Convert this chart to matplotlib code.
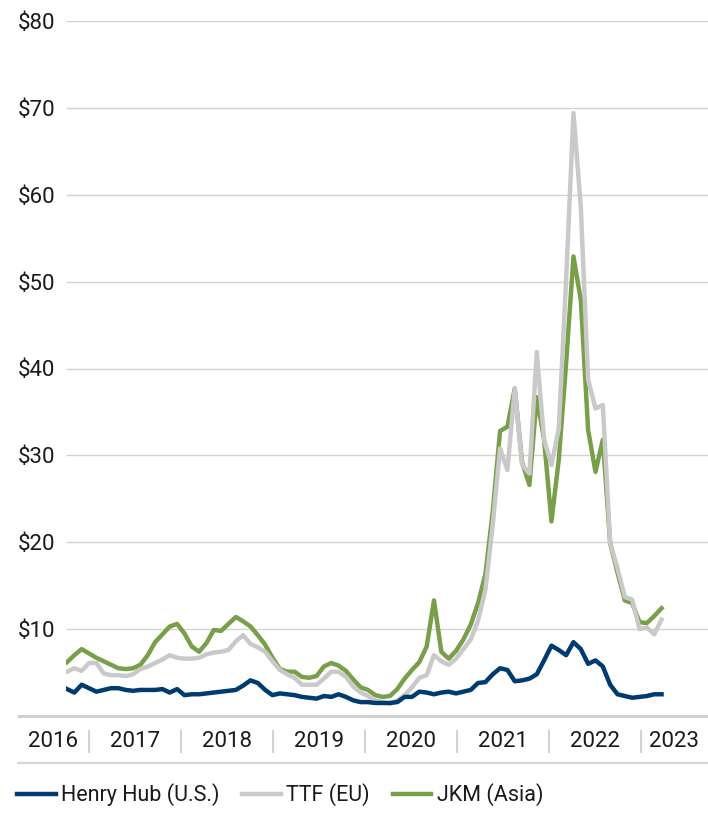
import matplotlib.pyplot as plt
import numpy as np

plt.rcParams['font.family'] = ['Roboto', 'DejaVu Sans']

years = ['2016', '2017', '2018', '2019', '2020', '2021', '2022', '2023']

henry_hub = [3.1, 2.7, 3.6, 3.2, 2.8, 3.0, 3.2, 3.2, 3.0, 2.9,
             3.0, 3.0, 3.0, 3.1, 2.7, 3.1, 2.4, 2.5, 2.5, 2.6,
             2.7, 2.8, 2.9, 3.0, 3.5, 4.1, 3.8, 3.0, 2.4, 2.6,
             2.5, 2.4, 2.2, 2.1, 2.0, 2.3, 2.2, 2.5, 2.2, 1.8,
             1.6, 1.6, 1.5, 1.5, 1.5, 1.6, 2.2, 2.2, 2.8, 2.7,
             2.5, 2.7, 2.8, 2.6, 2.8, 3.0, 3.8, 3.9, 4.8, 5.5,
             5.3, 4.0, 4.1, 4.3, 4.8, 6.4, 8.1, 7.6, 7.0, 8.5,
             7.7, 6.0, 6.4, 5.7, 3.6, 2.5, 2.3, 2.1, 2.2, 2.3,
             2.5, 2.5]

ttf = [5.1, 5.5, 5.2, 6.1, 6.1, 4.9, 4.7, 4.7, 4.6, 4.8,
       5.4, 5.7, 6.1, 6.5, 7.0, 6.7, 6.6, 6.6, 6.7, 7.1,
       7.3, 7.4, 7.6, 8.6, 9.3, 8.3, 7.9, 7.4, 6.3, 5.3,
       4.8, 4.4, 3.6, 3.6, 3.6, 4.3, 5.1, 5.1, 4.5, 3.4,
       2.7, 2.3, 1.8, 1.6, 1.4, 1.8, 2.4, 3.3, 4.4, 4.7,
       7.0, 6.3, 5.9, 6.6, 7.7, 8.8, 11.0, 14.5, 22.0, 30.8,
       28.3, 37.7, 28.9, 27.9, 41.9, 31.8, 28.9, 33.1, 50.2, 69.4,
       58.6, 38.7, 35.4, 35.8, 19.9, 17.0, 13.7, 13.4, 10.0, 10.2,
       9.4, 11.1]

jkm = [6.2, 7.0, 7.7, 7.2, 6.7, 6.3, 5.9, 5.5, 5.4, 5.5,
       5.9, 7.0, 8.5, 9.4, 10.3, 10.6, 9.5, 8.0, 7.4, 8.4,
       9.9, 9.8, 10.6, 11.4, 10.9, 10.3, 9.3, 8.2, 6.7, 5.4,
       5.1, 5.1, 4.5, 4.4, 4.6, 5.7, 6.1, 5.8, 5.2, 4.2,
       3.3, 3.0, 2.4, 2.2, 2.3, 3.1, 4.3, 5.3, 6.2, 8.0,
       13.3, 7.4, 6.6, 7.5, 8.8, 10.5, 13.0, 16.3, 23.5, 32.8,
       33.3, 37.7, 29.2, 26.6, 36.7, 31.8, 22.4, 29.5, 40.6, 52.9,
       47.9, 32.9, 28.1, 31.8, 19.9, 16.5, 13.3, 13.0, 10.8, 10.7,
       11.5, 12.4]

x = np.arange(len(henry_hub))

fig = plt.figure(figsize=(7.08, 8.14), dpi=100)
ax = fig.add_axes([66 / 708, 98 / 814, 642 / 708, 695 / 814])

ax.plot(x, jkm, color='#7a9f4a', lw=3.2, zorder=2, label='JKM (Asia)')
ax.plot(x, ttf, color='#c8c9c8', lw=3.2, zorder=3, label='TTF (EU)')
ax.plot(x, henry_hub, color='#003b6f', lw=3.2, zorder=4, label='Henry Hub (U.S.)')

x_left, x_right = -0.136, 87.33
ax.set_xlim(x_left, x_right)
ax.set_ylim(0, 80)

# gridlines and y labels
yt = np.arange(10, 81, 10)
ax.hlines(yt, x_left, x_right, color='#d3d3d3', lw=1.0, zorder=1)
ax.set_yticks(yt)
ax.set_yticklabels(['$%d' % v for v in yt], fontsize=16, color='#1a1a1a')
ax.tick_params(axis='y', length=0, pad=8)
ax.set_xticks([])
for s in ax.spines.values():
    s.set_visible(False)

# bottom axis band: axis line, year separators, lower rule
ext = -49 / 642  # axes fraction of the left extension
ax.hlines(0, ext, 1, transform=ax.get_yaxis_transform(), color='#d0d0d0',
          lw=2.2, clip_on=False, zorder=1)
ax.hlines(-0.0676, ext, 1, transform=ax.transAxes, color='#d6d6d6',
          lw=1.6, clip_on=False)
edges = [3.0 + 12.53 * k for k in range(7)]
ax.vlines(edges, -0.0201, -0.0528, transform=ax.get_xaxis_transform(),
          color='#cfcfcf', lw=1.3, clip_on=False)
x_ext = x_left + ext * (x_right - x_left)
bounds = [x_ext] + edges + [x_right]
for i, yr in enumerate(years):
    ax.text((bounds[i] + bounds[i + 1]) / 2, -0.036, yr,
            transform=ax.get_xaxis_transform(), ha='center', va='center',
            fontsize=16, color='#1a1a1a')

handles, labels = ax.get_legend_handles_labels()
order = [2, 1, 0]
fig.legend([handles[i] for i in order], [labels[i] for i in order],
           loc='center left', bbox_to_anchor=(17 / 708, 1 - 795 / 814),
           ncol=3, frameon=False, fontsize=15.5, handlelength=1.8,
           handletextpad=0.25, columnspacing=1.05, borderpad=0,
           borderaxespad=0, labelcolor='#1a1a1a')

fig.savefig('out.png', dpi=100)
